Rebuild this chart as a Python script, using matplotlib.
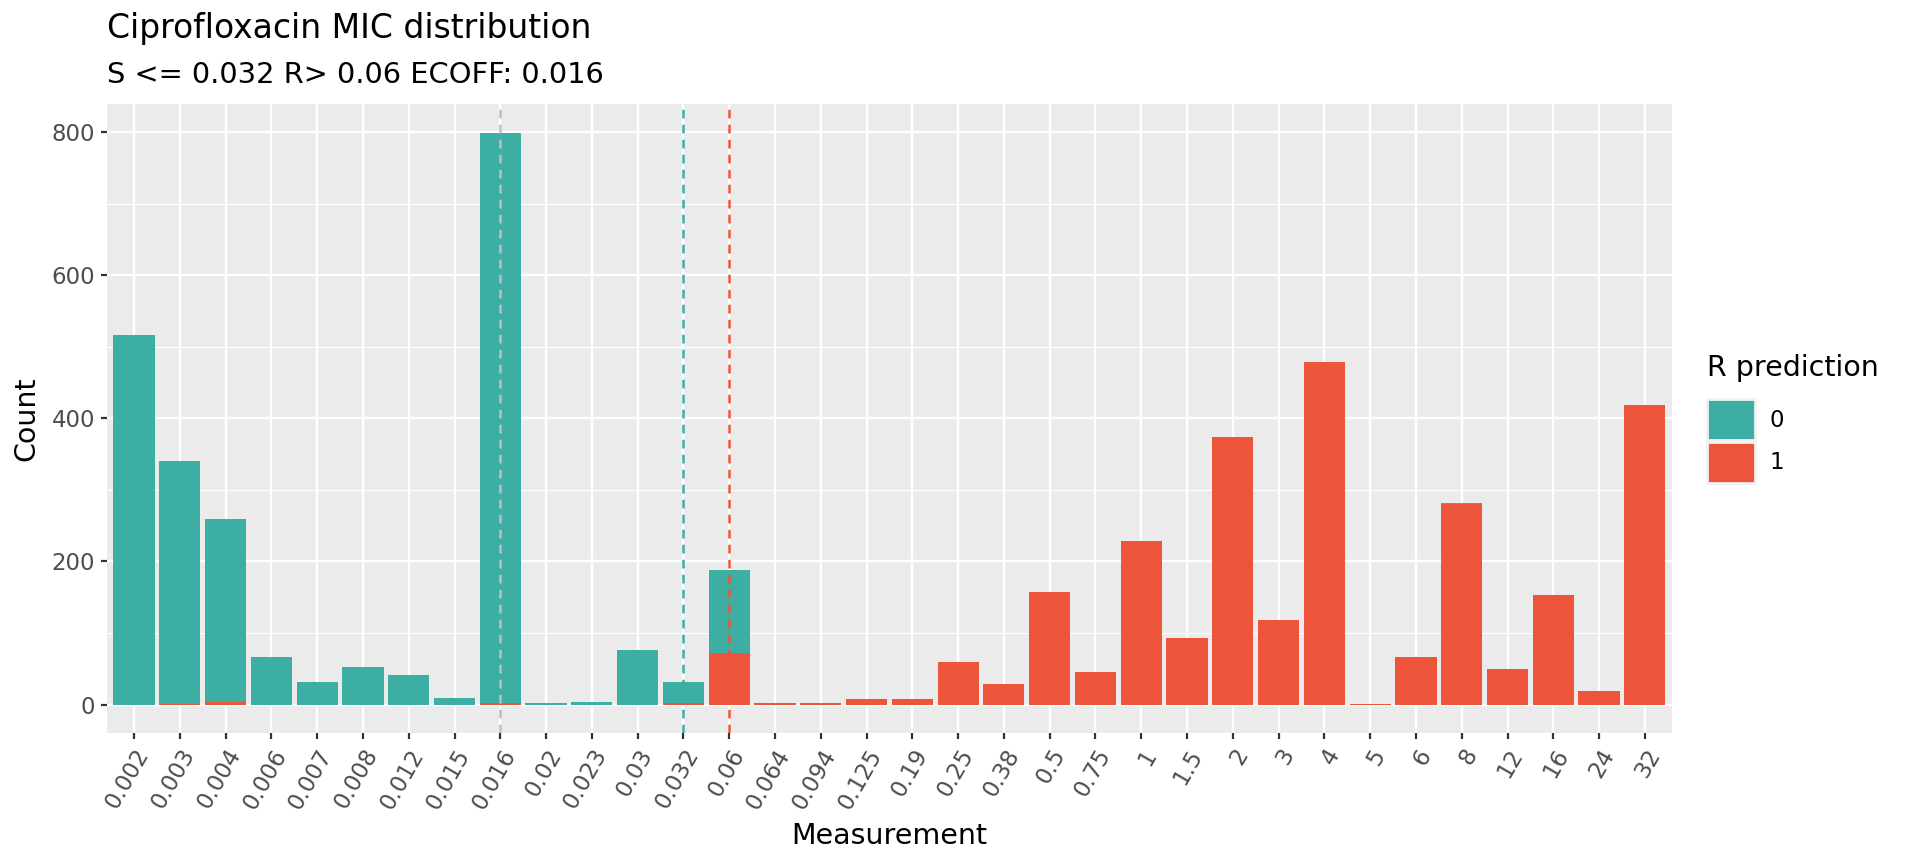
import matplotlib
matplotlib.use("Agg")
import matplotlib.pyplot as plt
from matplotlib.patches import Patch
import numpy as np

categories = ['0.002', '0.003', '0.004', '0.006', '0.007', '0.008', '0.012', '0.015',
              '0.016', '0.02', '0.023', '0.03', '0.032', '0.06', '0.064', '0.094',
              '0.125', '0.19', '0.25', '0.38', '0.5', '0.75', '1', '1.5', '2', '3',
              '4', '5', '6', '8', '12', '16', '24', '32']
count_pred0 = [516, 340, 256, 67, 31, 53, 41, 9, 797, 2, 4, 76, 29, 116, 0, 0,
               0, 0, 0, 0, 0, 0, 0, 0, 0, 0, 0, 0, 0, 2, 0, 0, 0, 0]
count_pred1 = [0, 1, 3, 0, 0, 0, 0, 0, 2, 0, 0, 0, 2, 72, 2, 2,
               8, 8, 60, 29, 157, 46, 229, 93, 374, 118, 479, 1, 67, 280, 50, 153, 19, 419]
ecoff = '0.016'
s_break = '0.032'
r_break = '0.06'
title = "Ciprofloxacin MIC distribution"
subtitle = "S <= 0.032 R> 0.06 ECOFF: 0.016"

TEAL = '#3CAEA3'
RED = '#ED553B'

plt.rcParams['font.family'] = ['DejaVu Sans']

fig = plt.figure(figsize=(19.2, 8.65), dpi=100)
ax = fig.add_axes([0.0555, 0.1524, 0.8155, 0.7272])

x = np.arange(len(categories))
p1 = np.array(count_pred1)
p0 = np.array(count_pred0)
ax.bar(x, p1, width=0.9, color=RED, zorder=3, linewidth=0)
ax.bar(x, p0, width=0.9, bottom=p1, color=TEAL, zorder=3, linewidth=0)

ymax = (p0 + p1).max()
ax.set_ylim(-0.05 * ymax, ymax * 1.05)
ax.set_xlim(-0.6, len(categories) - 1 + 0.6)

for cat, col in [(ecoff, '#BEBEBE'), (s_break, TEAL), (r_break, RED)]:
    ax.axvline(categories.index(cat), color=col, linewidth=1.8, linestyle=(0, (3.5, 2.5)), zorder=4)

ax.set_facecolor('#EBEBEB')
for s in ax.spines.values():
    s.set_visible(False)
ax.set_yticks([0, 200, 400, 600, 800])
ax.set_yticks([100, 300, 500, 700], minor=True)
ax.set_xticks(x)
ax.set_xticklabels(categories, rotation=60, ha='right', va='top', rotation_mode='anchor')
ax.grid(True, which='major', color='white', linewidth=1.7, zorder=0)
ax.grid(True, which='minor', axis='y', color='white', linewidth=0.85, zorder=0)
ax.set_axisbelow(True)
ax.tick_params(axis='both', which='major', length=4.4, width=1.6, color='#333333',
               labelcolor='#4D4D4D', labelsize=16.5, pad=4)
ax.tick_params(axis='y', which='minor', length=0)

ax.set_xlabel('Measurement', fontsize=20.5, labelpad=6)
ax.set_ylabel('Count', fontsize=20.5, labelpad=8)

fig.text(0.0558, 0.986, title, fontsize=23.8, ha='left', va='top')
fig.text(0.0558, 0.929, subtitle, fontsize=20.8, ha='left', va='top')

handles = [Patch(facecolor=TEAL, edgecolor='#F2F2F2', linewidth=2),
           Patch(facecolor=RED, edgecolor='#F2F2F2', linewidth=2)]
leg = ax.legend(handles, ['0', '1'], title='R prediction', loc='center left',
                bbox_to_anchor=(1.016, 0.5), frameon=False, fontsize=16.5,
                title_fontsize=20.5, handlelength=2.1, handleheight=2.4,
                handletextpad=0.65, labelspacing=0.05, borderaxespad=0,
                alignment='left')
leg._legend_box.sep = 12

fig.savefig('out.png', dpi=100)
